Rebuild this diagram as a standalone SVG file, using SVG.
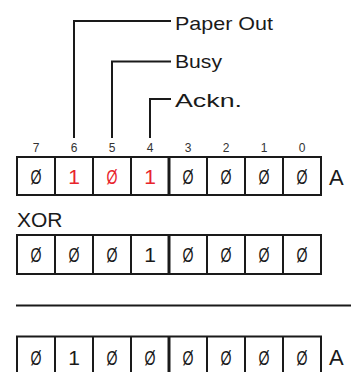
<svg xmlns="http://www.w3.org/2000/svg" width="351" height="372" viewBox="0 0 351 372">
<style>
.ln{fill:none;stroke:#1a1a1a;stroke-width:2}
.box{fill:#fff;stroke:#1a1a1a;stroke-width:2}
.mid{stroke:#1a1a1a;stroke-width:3}
.lbl{font-family:"Liberation Sans",Arial,sans-serif;font-size:19px;fill:#1a1a1a}
.num{font-family:"Liberation Sans",Arial,sans-serif;font-size:12px;fill:#333;text-anchor:middle}
.z{font-family:"Liberation Sans",Arial,sans-serif;font-size:21px;fill:#1a1a1a;text-anchor:middle}
.o{font-family:"Liberation Sans",Arial,sans-serif;font-size:21px;fill:#1a1a1a;text-anchor:middle}
.r{fill:#e8242c}
.big{font-family:"Liberation Sans",Arial,sans-serif;font-size:22px;fill:#1a1a1a}
</style>
<rect width="351" height="372" fill="#fff"/>
<g id="connectors">
<polyline class="ln" points="74,138 74,21 171,21"/>
<polyline class="ln" points="112,138 112,61.5 171,61.5"/>
<polyline class="ln" points="150,138 150,99 171,99"/>
<line class="ln" x1="16" y1="305.5" x2="351" y2="305.5"/>
</g>
<g id="label-paper-out"><text class="lbl" x="175" y="30" textLength="98" lengthAdjust="spacingAndGlyphs">Paper Out</text></g>
<g id="label-busy"><text class="lbl" x="175" y="67.5" textLength="47" lengthAdjust="spacingAndGlyphs">Busy</text></g>
<g id="label-ackn"><text class="lbl" x="175" y="106.5" textLength="67" lengthAdjust="spacingAndGlyphs">Ackn.</text></g>
<g id="bit-numbers">
<text class="num" x="36" y="152">7</text>
<text class="num" x="74" y="152">6</text>
<text class="num" x="112" y="152">5</text>
<text class="num" x="150" y="152">4</text>
<text class="num" x="188" y="152">3</text>
<text class="num" x="226" y="152">2</text>
<text class="num" x="264" y="152">1</text>
<text class="num" x="302" y="152">0</text>
</g>
<g id="register-a">
<rect class="box" x="17" y="157" width="304" height="38"/>
<path class="ln" d="M55,157V195M93,157V195M131,157V195M207,157V195M245,157V195M283,157V195"/>
<line class="mid" x1="169" y1="157" x2="169" y2="195"/>
<text class="z" x="36" y="184" textLength="11" lengthAdjust="spacingAndGlyphs">Ø</text>
<text class="o r" x="74" y="184">1</text>
<text class="z r" x="112" y="184" textLength="11" lengthAdjust="spacingAndGlyphs">Ø</text>
<text class="o r" x="150" y="184">1</text>
<text class="z" x="188" y="184" textLength="11" lengthAdjust="spacingAndGlyphs">Ø</text>
<text class="z" x="226" y="184" textLength="11" lengthAdjust="spacingAndGlyphs">Ø</text>
<text class="z" x="264" y="184" textLength="11" lengthAdjust="spacingAndGlyphs">Ø</text>
<text class="z" x="302" y="184" textLength="11" lengthAdjust="spacingAndGlyphs">Ø</text>
<text class="big" x="329" y="185">A</text>
</g>
<g id="xor-label"><text class="big" x="17" y="227" style="font-size:21px">XOR</text></g>
<g id="mask">
<rect class="box" x="17" y="235" width="304" height="39"/>
<path class="ln" d="M55,235V274M93,235V274M131,235V274M207,235V274M245,235V274M283,235V274"/>
<line class="mid" x1="169" y1="235" x2="169" y2="274"/>
<text class="z" x="36" y="262" textLength="11" lengthAdjust="spacingAndGlyphs">Ø</text>
<text class="z" x="74" y="262" textLength="11" lengthAdjust="spacingAndGlyphs">Ø</text>
<text class="z" x="112" y="262" textLength="11" lengthAdjust="spacingAndGlyphs">Ø</text>
<text class="o" x="150" y="262">1</text>
<text class="z" x="188" y="262" textLength="11" lengthAdjust="spacingAndGlyphs">Ø</text>
<text class="z" x="226" y="262" textLength="11" lengthAdjust="spacingAndGlyphs">Ø</text>
<text class="z" x="264" y="262" textLength="11" lengthAdjust="spacingAndGlyphs">Ø</text>
<text class="z" x="302" y="262" textLength="11" lengthAdjust="spacingAndGlyphs">Ø</text>
</g>
<g id="result-a">
<rect class="box" x="17" y="336.5" width="304" height="40"/>
<path class="ln" d="M55,336.5V377M93,336.5V377M131,336.5V377M207,336.5V377M245,336.5V377M283,336.5V377"/>
<line class="mid" x1="169" y1="336.5" x2="169" y2="377"/>
<text class="z" x="36" y="364.5" textLength="11" lengthAdjust="spacingAndGlyphs">Ø</text>
<text class="o" x="74" y="364.5">1</text>
<text class="z" x="112" y="364.5" textLength="11" lengthAdjust="spacingAndGlyphs">Ø</text>
<text class="z" x="150" y="364.5" textLength="11" lengthAdjust="spacingAndGlyphs">Ø</text>
<text class="z" x="188" y="364.5" textLength="11" lengthAdjust="spacingAndGlyphs">Ø</text>
<text class="z" x="226" y="364.5" textLength="11" lengthAdjust="spacingAndGlyphs">Ø</text>
<text class="z" x="264" y="364.5" textLength="11" lengthAdjust="spacingAndGlyphs">Ø</text>
<text class="z" x="302" y="364.5" textLength="11" lengthAdjust="spacingAndGlyphs">Ø</text>
<text class="big" x="329" y="365">A</text>
</g>
</svg>
